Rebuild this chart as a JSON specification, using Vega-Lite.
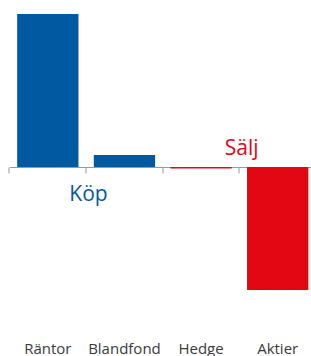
{
  "$schema": "https://vega.github.io/schema/vega-lite/v6.json",
  "width": 306.5,
  "height": 356,
  "autosize": {"type": "none"},
  "padding": {"left": 9.5, "top": 0, "right": 0, "bottom": 0},
  "config": {"view": {"stroke": null}, "font": "Open Sans"},
  "layer": [
    {
      "data": {"values": [
        {"kategori": "Räntor", "varde": 153, "typ": "Köp"},
        {"kategori": "Blandfond", "varde": 12, "typ": "Köp"},
        {"kategori": "Hedge", "varde": -1.5, "typ": "Sälj"},
        {"kategori": "Aktier", "varde": -123, "typ": "Sälj"}
      ]},
      "mark": {"type": "bar"},
      "encoding": {
        "x": {"field": "kategori", "type": "nominal", "sort": null,
          "scale": {"paddingInner": 0.2, "paddingOuter": 0.1},
          "axis": {"title": null, "orient": "bottom", "offset": -189, "bandPosition": -0.125,
            "domainColor": "#9a9a9a", "tickColor": "#9a9a9a", "tickSize": 6, "labelAngle": 0,
            "labelAlign": "center",
            "labelPadding": 168, "labelFontSize": 15, "labelColor": "#3a3a3a", "labelFont": "Open Sans"}},
        "y": {"field": "varde", "type": "quantitative",
          "scale": {"domain": [-189, 167], "nice": false, "zero": false},
          "axis": null},
        "color": {"field": "typ", "type": "nominal",
          "scale": {"domain": ["Köp", "Sälj"], "range": ["#0059a1", "#e30613"]},
          "legend": null}
      }
    },
    {
      "data": {"values": [
        {"label": "Köp", "kategori": "Räntor", "varde": -28},
        {"label": "Sälj", "kategori": "Hedge", "varde": 18}
      ]},
      "mark": {"type": "text", "fontSize": 21, "baseline": "middle", "align": "center", "dx": 10},
      "encoding": {
        "x": {"field": "kategori", "type": "nominal", "sort": null, "bandPosition": 1},
        "y": {"field": "varde", "type": "quantitative"},
        "text": {"field": "label"},
        "color": {"field": "label", "type": "nominal",
          "scale": {"domain": ["Köp", "Sälj"], "range": ["#0059a1", "#e30613"]},
          "legend": null}
      }
    }
  ],
  "resolve": {"scale": {"color": "independent"}}
}
